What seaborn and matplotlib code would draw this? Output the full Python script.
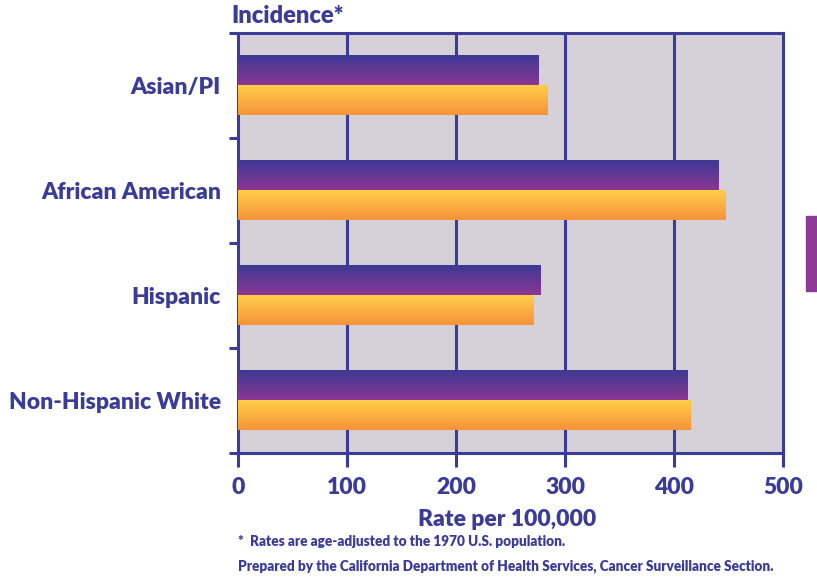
import numpy as np
import pandas as pd
import matplotlib
matplotlib.use("Agg")
import matplotlib.pyplot as plt
import matplotlib.patches as mpatches
from matplotlib.colors import LinearSegmentedColormap
import seaborn as sns

# Data (rate per 100,000)
groups = ["Asian/PI", "African American", "Hispanic", "Non-Hispanic White"]
series_names = ["Series 1", "Series 2"]
series1 = [275, 440, 277, 412]
series2 = [284, 447, 271, 415]
x_ticks = [0, 100, 200, 300, 400, 500]

NAVY = "#3b3b98"
FONT = "Lato"
WEIGHT = "heavy"

df = pd.DataFrame({
    "group": groups * 2,
    "series": [series_names[0]] * len(groups) + [series_names[1]] * len(groups),
    "rate": series1 + series2,
})

sns.set_style("white")
plt.rcParams["font.family"] = [FONT, "DejaVu Sans"]
plt.rcParams["font.weight"] = WEIGHT

fig = plt.figure(figsize=(8.17, 5.77), dpi=100)
ax = fig.add_axes([237.7 / 817, 1 - 453 / 577, (783.3 - 237.7) / 817, (453 - 32.7) / 577])
ax.set_facecolor("#d6d1d8")

sns.barplot(data=df, y="group", x="rate", hue="series", order=groups,
            hue_order=series_names, orient="h", width=0.58, gap=0.03,
            palette=["#5b3a96", "#fbb040"], legend=False, ax=ax, zorder=3)

# gradient fills for the bars
grads = [("#3c3a93", "#8c3794"), ("#ffce48", "#f6933a")]
for container, (c_top, c_bot) in zip(ax.containers, grads):
    cmap = LinearSegmentedColormap.from_list("g", [c_top, c_bot])
    grad = np.linspace(0, 1, 64).reshape(-1, 1)
    for bar in container:
        x0, y0 = bar.get_x(), bar.get_y()
        w, h = bar.get_width(), bar.get_height()
        ax.imshow(grad, cmap=cmap, aspect="auto", origin="upper",
                  extent=(x0, x0 + w, y0 + h, y0), zorder=4,
                  interpolation="bicubic")
        bar.set_visible(False)

ax.set_xlim(0, 500)
ax.set_ylim(len(groups) - 0.5, -0.5)

# vertical grid lines
for v in x_ticks[1:-1]:
    ax.axvline(v, color=NAVY, lw=2.2, zorder=2)

for s in ax.spines.values():
    s.set_color(NAVY)
    s.set_linewidth(2.2)
    s.set_visible(True)

ax.set_xticks(x_ticks)
ax.set_xticklabels([str(t) for t in x_ticks])
ax.tick_params(axis="x", direction="out", length=10, width=2.2, color=NAVY,
               labelcolor=NAVY, labelsize=16.5, pad=7, bottom=True)

# category boundaries as major ticks, labels on minor ticks
ax.set_yticks(np.arange(-0.5, len(groups), 1.0))
ax.set_yticklabels([])
ax.set_yticks(range(len(groups)), labels=groups, minor=True)
ax.tick_params(axis="y", which="major", direction="out", length=6.5, width=2.2,
               color=NAVY, left=True)
ax.tick_params(axis="y", which="minor", length=0, labelcolor=NAVY,
               labelsize=16.5, pad=12, left=True)
for lab in ax.get_xticklabels() + ax.get_yticklabels(minor=True):
    lab.set_fontweight(WEIGHT)

ax.set_xlabel("")
ax.set_ylabel("")

fig.text(231 / 817, 1 - 16 / 577, "Incidence*", color=NAVY, fontsize=17,
         fontweight=WEIGHT, ha="left", va="center")
fig.text(507 / 817, 1 - 519 / 577, "Rate per 100,000", color=NAVY, fontsize=16.5,
         fontweight=WEIGHT, ha="center", va="center")
fig.text(238 / 817, 1 - 542 / 577, "*  Rates are age-adjusted to the 1970 U.S. population.",
         color=NAVY, fontsize=9.8, fontweight=WEIGHT, ha="left", va="center")
fig.text(238 / 817, 1 - 566 / 577,
         "Prepared by the California Department of Health Services, Cancer Surveillance Section.",
         color=NAVY, fontsize=9.8, fontweight=WEIGHT, ha="left", va="center")

# purple tab at the right edge
fig.patches.append(mpatches.Rectangle((806 / 817, 1 - 291 / 577), 11 / 817, 75 / 577,
                                      transform=fig.transFigure, color="#8b3a96",
                                      zorder=1))

fig.savefig("out.png", dpi=100)
